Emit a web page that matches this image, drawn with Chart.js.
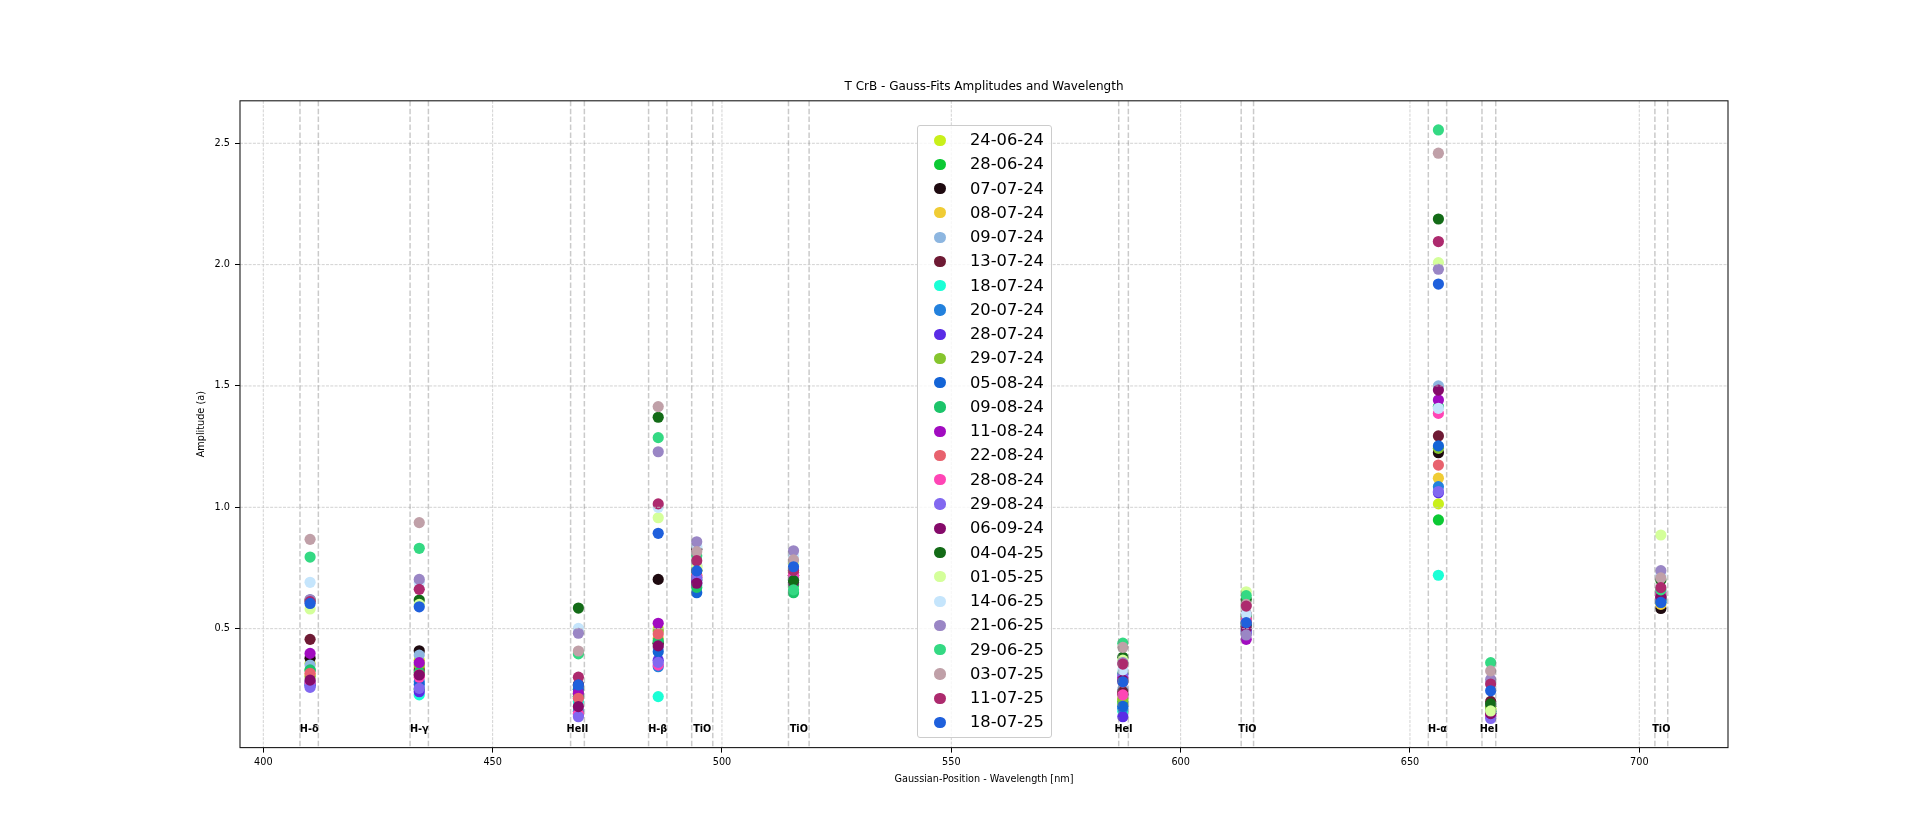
<!DOCTYPE html>
<html>
<head>
<meta charset="utf-8">
<title>T CrB - Gauss-Fits Amplitudes and Wavelength</title>
<script src="https://cdn.jsdelivr.net/npm/chart.js@4.4.1/dist/chart.umd.min.js"></script>
<style>
  html, body { margin: 0; padding: 0; background: #fff; }
  #wrap { position: relative; width: 1920px; height: 840px; }
  #chart { display: block; }
  #legend {
    position: absolute; left: 917px; top: 125px; width: 135px; height: 613px;
    box-sizing: border-box; border: 1px solid #cccccc; border-radius: 3px;
    background: rgba(255, 255, 255, 0.8); padding-top: 2px;
    font-family: "DejaVu Sans", sans-serif; font-size: 16.3px; color: #000;
  }
  .row { position: relative; height: 24.27px; line-height: 24.27px; }
  .dot { position: absolute; left: 16.4px; top: 6.5px; width: 11.2px; height: 11.2px; border-radius: 50%; }
  .lbl { position: absolute; left: 52px; top: 0; white-space: nowrap; }
</style>
</head>
<body>
<div id="wrap">
  <canvas id="chart" width="1920" height="840"></canvas>
  <div id="legend"></div>
</div>
<script>
// Observation dates and their marker colours
const dates = ['24-06-24', '28-06-24', '07-07-24', '08-07-24', '09-07-24', '13-07-24', '18-07-24',
    '20-07-24', '28-07-24', '29-07-24', '05-08-24', '09-08-24', '11-08-24', '22-08-24', '28-08-24',
    '29-08-24', '06-09-24', '04-04-25', '01-05-25', '14-06-25', '21-06-25', '29-06-25', '03-07-25',
    '11-07-25', '18-07-25'];
const colors = ['#c9f01a', '#0cc934', '#1e0a10', '#f0cc35', '#8db6e0', '#6e1a34', '#1affd6',
    '#2381dd', '#5a2ce6', '#86c52e', '#1464d6', '#1cc46a', '#a10cc0', '#e8626e', '#ff45b5',
    '#8268f0', '#850a6a', '#136b17', '#d4ff9a', '#c5e5fc', '#9a86c5', '#34d983', '#c0a0a8',
    '#ad2a6e', '#1f60dc'];

// Spectral lines: fitted position, fit window and label
const lineNames = ['H-δ', 'H-γ', 'HeII', 'H-β', 'TiO', 'TiO', 'HeI', 'TiO', 'H-α', 'HeI', 'TiO'];
const linePos = [410.2, 434.0, 468.7, 486.1, 494.5, 515.6, 587.4, 614.3, 656.2, 667.6, 704.7];
const windowLo = [408, 432, 467, 484, 493.4, 514.5, 586.5, 613.2, 654, 665.7, 703.4];
const windowHi = [412, 436, 470, 488, 498, 519, 588.6, 615.9, 658, 668.7, 706.2];

const xTicks = [400, 450, 500, 550, 600, 650, 700];
const yTicks = [0.5, 1.0, 1.5, 2.0, 2.5];

// Gauss amplitudes per line, one value per date (same order as dates)
const ampHdelta = [0.357, 0.33, 0.378, 0.309, 0.350, 0.456, 0.268, 0.272, 0.265, 0.302, 0.28, 0.330, 0.398, 0.316, 0.277, 0.258, 0.288, 0.618, 0.581, 0.691, 0.62, 0.795, 0.868, 0.611, 0.604];
const ampHgamma = [0.37, 0.25, 0.409, 0.34, 0.391, 0.33, 0.227, 0.282, 0.240, 0.35, 0.27, 0.32, 0.360, 0.31, 0.300, 0.254, 0.309, 0.618, 0.60, 0.69, 0.703, 0.831, 0.937, 0.662, 0.590];
const ampHeII = [0.25, 0.22, 0.265, 0.24, 0.26, 0.27, 0.20, 0.16, 0.145, 0.23, 0.25, 0.22, 0.234, 0.213, 0.151, 0.137, 0.179, 0.585, 0.40, 0.501, 0.481, 0.396, 0.408, 0.300, 0.268];
const ampHbeta = [0.50, 0.44, 0.703, 0.46, 0.42, 0.44, 0.220, 0.343, 0.37, 0.49, 0.405, 0.450, 0.522, 0.478, 0.35, 0.361, 0.429, 1.371, 0.957, 1.00, 1.229, 1.287, 1.415, 1.014, 0.893];
const ampTiO494 = [0.75, 0.70, 0.827, 0.72, 0.76, 0.71, 0.70, 0.68, 0.69, 0.74, 0.648, 0.670, 0.70, 0.72, 0.714, 0.71, 0.687, 0.74, 0.755, 0.84, 0.858, 0.80, 0.817, 0.780, 0.738];
const ampTiO515 = [0.72, 0.68, 0.73, 0.70, 0.74, 0.72, 0.69, 0.70, 0.71, 0.73, 0.70, 0.648, 0.72, 0.71, 0.72, 0.70, 0.69, 0.698, 0.77, 0.80, 0.821, 0.66, 0.783, 0.74, 0.755];
const ampHeI587 = [0.19, 0.20, 0.23, 0.21, 0.25, 0.24, 0.16, 0.172, 0.137, 0.21, 0.18, 0.316, 0.30, 0.28, 0.227, 0.31, 0.288, 0.382, 0.37, 0.33, 0.36, 0.44, 0.423, 0.354, 0.281];
const ampTiO614 = [0.55, 0.52, 0.51, 0.50, 0.53, 0.56, 0.50, 0.49, 0.48, 0.54, 0.52, 0.55, 0.456, 0.53, 0.54, 0.49, 0.50, 0.62, 0.652, 0.56, 0.474, 0.636, 0.60, 0.593, 0.525];
const ampHalpha = [1.014, 0.948, 1.225, 1.120, 1.50, 1.294, 0.720, 1.085, 1.060, 1.243, 1.253, 1.415, 1.442, 1.174, 1.387, 1.065, 1.483, 2.188, 2.008, 1.408, 1.981, 2.555, 2.459, 2.095, 1.920];
const ampHeI667 = [0.17, 0.16, 0.18, 0.17, 0.19, 0.20, 0.15, 0.16, 0.14, 0.17, 0.15, 0.16, 0.15, 0.14, 0.14, 0.13, 0.15, 0.190, 0.161, 0.28, 0.291, 0.360, 0.326, 0.272, 0.244];
const ampTiO704 = [0.62, 0.63, 0.583, 0.60, 0.64, 0.62, 0.61, 0.62, 0.63, 0.64, 0.61, 0.62, 0.65, 0.63, 0.64, 0.62, 0.63, 0.70, 0.886, 0.72, 0.739, 0.66, 0.709, 0.669, 0.608];

const amplitudes = [ampHdelta, ampHgamma, ampHeII, ampHbeta, ampTiO494, ampTiO515,
    ampHeI587, ampTiO614, ampHalpha, ampHeI667, ampTiO704];

const labelY = 0.085;
const FONT = '"DejaVu Sans", sans-serif';

// one dataset per date; later dates drawn on top like matplotlib
const datasets = dates.map((d, i) => ({
    label: d,
    data: linePos.map((x, j) => ({ x: x, y: amplitudes[j][i] })),
    backgroundColor: colors[i],
    borderColor: colors[i],
    borderWidth: 0,
    pointRadius: 5.6,
    pointHoverRadius: 5.6,
    order: dates.length - i
}));

function strokeLine(ctx, x1, y1, x2, y2) {
    ctx.beginPath();
    ctx.moveTo(x1, y1);
    ctx.lineTo(x2, y2);
    ctx.stroke();
}

const overlay = {
    id: 'overlay',
    afterDatasetsDraw(chart) {
        const ctx = chart.ctx;
        const a = chart.chartArea;
        const xs = chart.scales.x, ys = chart.scales.y;

        ctx.save();
        ctx.beginPath();
        ctx.rect(a.left, a.top, a.right - a.left, a.bottom - a.top);
        ctx.clip();

        // grid
        ctx.strokeStyle = '#c6c6c6';
        ctx.lineWidth = 0.8;
        ctx.setLineDash([3, 1.3]);
        xTicks.forEach(v => {
            const px = xs.getPixelForValue(v);
            strokeLine(ctx, px, a.top, px, a.bottom);
        });
        yTicks.forEach(v => {
            const py = ys.getPixelForValue(v);
            strokeLine(ctx, a.left, py, a.right, py);
        });

        // fit windows
        ctx.strokeStyle = 'rgba(128, 128, 128, 0.42)';
        ctx.lineWidth = 1.5;
        ctx.setLineDash([5.5, 2.4]);
        windowLo.concat(windowHi).forEach(v => {
            const px = xs.getPixelForValue(v);
            strokeLine(ctx, px, a.top, px, a.bottom);
        });
        ctx.restore();

        // line labels
        ctx.save();
        ctx.fillStyle = '#000';
        ctx.font = 'bold 9.7px ' + FONT;
        ctx.textAlign = 'center';
        ctx.textBaseline = 'middle';
        lineNames.forEach((n, j) => {
            ctx.fillText(n, xs.getPixelForValue((windowLo[j] + windowHi[j]) / 2), ys.getPixelForValue(labelY));
        });

        // frame
        ctx.strokeStyle = '#1a1a1a';
        ctx.lineWidth = 1.1;
        ctx.strokeRect(a.left, a.top, a.right - a.left, a.bottom - a.top);
        ctx.restore();
    },
    afterDraw(chart) {
        const ctx = chart.ctx;
        const a = chart.chartArea;
        const cx = (a.left + a.right) / 2;
        ctx.save();
        ctx.fillStyle = '#000';
        ctx.textAlign = 'center';
        ctx.textBaseline = 'middle';
        ctx.font = '12px ' + FONT;
        ctx.fillText('T CrB - Gauss-Fits Amplitudes and Wavelength', cx, 87);
        ctx.font = '9.7px ' + FONT;
        ctx.fillText('Gaussian-Position - Wavelength [nm]', cx, 779);
        ctx.translate(201, (a.top + a.bottom) / 2);
        ctx.rotate(-Math.PI / 2);
        ctx.fillText('Amplitude (a)', 0, 0);
        ctx.restore();
    }
};

const tickFont = { family: FONT, size: 9.7 };

new Chart(document.getElementById('chart').getContext('2d'), {
    type: 'scatter',
    data: { datasets: datasets },
    options: {
        responsive: false,
        animation: false,
        devicePixelRatio: 1,
        layout: { padding: { left: 0, right: 192, top: 100.8, bottom: 0 } },
        plugins: {
            legend: { display: false },
            title: { display: false },
            tooltip: { enabled: false }
        },
        scales: {
            x: {
                type: 'linear',
                min: 394.92,
                max: 719.34,
                afterBuildTicks: s => { s.ticks = xTicks.map(v => ({ value: v })); },
                afterFit: s => { s.height = 92.4; },
                grid: { drawOnChartArea: false, drawTicks: true, tickLength: 5, tickColor: '#000', tickWidth: 1 },
                border: { display: false },
                ticks: { font: tickFont, color: '#000', padding: 4, maxRotation: 0, autoSkip: false }
            },
            y: {
                type: 'linear',
                min: 0.0099,
                max: 2.675,
                afterBuildTicks: s => { s.ticks = yTicks.map(v => ({ value: v })); },
                afterFit: s => { s.width = 240; },
                grid: { drawOnChartArea: false, drawTicks: true, tickLength: 5, tickColor: '#000', tickWidth: 1 },
                border: { display: false },
                ticks: { font: tickFont, color: '#000', padding: 5, callback: v => v.toFixed(1) }
            }
        }
    },
    plugins: [overlay]
});

// legend
const legendEl = document.getElementById('legend');
dates.forEach((d, i) => {
    const row = document.createElement('div');
    row.className = 'row';
    const dot = document.createElement('span');
    dot.className = 'dot';
    dot.style.background = colors[i];
    const lbl = document.createElement('span');
    lbl.className = 'lbl';
    lbl.textContent = d;
    row.appendChild(dot);
    row.appendChild(lbl);
    legendEl.appendChild(row);
});
</script>
</body>
</html>
